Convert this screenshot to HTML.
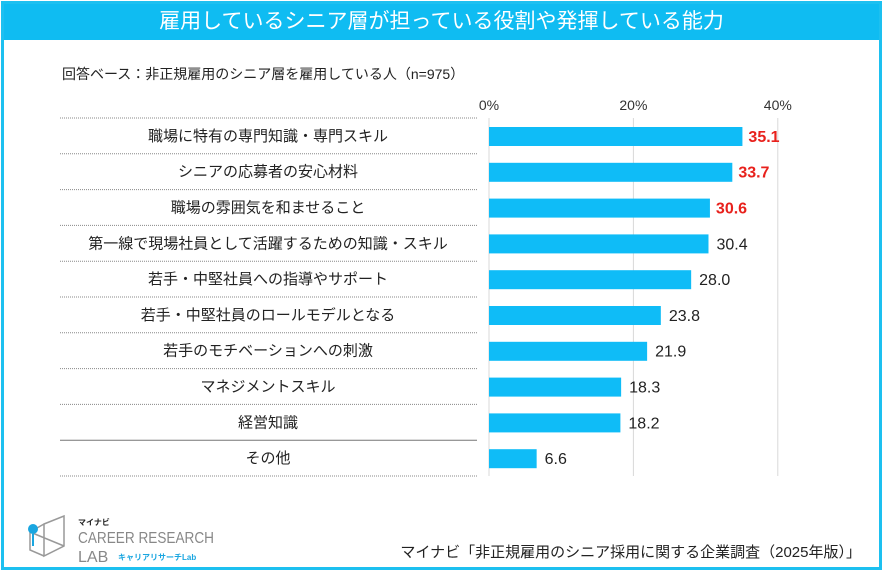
<!DOCTYPE html>
<html><head><meta charset="utf-8">
<style>
html,body{margin:0;padding:0;background:#fff;}
body{width:883px;height:573px;position:relative;overflow:hidden;font-family:"Liberation Sans","Noto Sans CJK JP",sans-serif;}
.frame{position:absolute;left:1px;top:1px;width:875px;height:563px;border:3px solid #1dc0f0;}
.title{position:absolute;left:4px;top:4px;width:875px;height:36px;background:#0fbcf2;color:#fff;font-size:21px;line-height:36px;text-align:center;}
.sub{position:absolute;left:62px;top:64px;font-size:14px;color:#222;}
.src{position:absolute;right:22px;top:541px;font-size:15px;color:#222;}
</style></head><body>
<div class="frame"></div>
<div class="title">雇用しているシニア層が担っている役割や発揮している能力</div>
<div class="sub">回答ベース：非正規雇用のシニア層を雇用している人（n=975）</div>
<svg id="chart" width="883" height="573" style="position:absolute;left:0;top:0"></svg>
<svg width="200" height="60" style="position:absolute;left:22px;top:512px">
  <path d="M22 12 L42 4 L42 34 L22 44 Z M22 12 L8 20 L8 38 L22 44 M8 20 L42 34" fill="none" stroke="#999" stroke-width="1.5"/>
  <circle cx="11" cy="17" r="5" fill="#1aa6e0"/><line x1="11" y1="22" x2="11" y2="34" stroke="#1aa6e0" stroke-width="2"/>
  <text x="56" y="13" font-size="8" font-weight="bold" fill="#222" font-family="Liberation Sans, Noto Sans CJK JP, sans-serif">マイナビ</text>
  <text x="56" y="31" font-size="16" fill="#888" textLength="136" lengthAdjust="spacingAndGlyphs" font-family="Liberation Sans, sans-serif">CAREER RESEARCH</text>
  <text x="56" y="50" font-size="16" fill="#888" font-family="Liberation Sans, sans-serif">LAB</text>
  <text x="96" y="48" font-size="8" font-weight="bold" fill="#1aa6e0" font-family="Liberation Sans, Noto Sans CJK JP, sans-serif">キャリアリサーチLab</text>
</svg>
<div class="src">マイナビ「非正規雇用のシニア採用に関する企業調査（2025年版）」</div>
<script>
const categories=["職場に特有の専門知識・専門スキル","シニアの応募者の安心材料","職場の雰囲気を和ませること","第一線で現場社員として活躍するための知識・スキル","若手・中堅社員への指導やサポート","若手・中堅社員のロールモデルとなる","若手のモチベーションへの刺激","マネジメントスキル","経営知識","その他"];
const values=[35.1,33.7,30.6,30.4,28.0,23.8,21.9,18.3,18.2,6.6];
const highlighted=[true,true,true,false,false,false,false,false,false,false];
const ticks=[0,20,40];
const NS="http://www.w3.org/2000/svg";
const svg=document.getElementById('chart');
const X0=489,PX=7.22,TOP=118,PITCH=35.8;
const xs=v=>X0+v*PX;
const rowY=i=>TOP+i*PITCH;
function mk(t,a){const e=document.createElementNS(NS,t);for(const k in a)e.setAttribute(k,a[k]);svg.appendChild(e);return e;}
ticks.forEach(t=>{
  const g=mk('line',{x1:xs(t),x2:xs(t),y1:TOP,y2:rowY(categories.length),stroke:'#d8d8d8','stroke-width':1});
  
  
  const l=mk('text',{x:xs(t),y:110,'font-size':14,fill:'#333','text-anchor':'middle'});
  l.textContent=t+'%';
  
  
});
for(let i=0;i<=categories.length;i++){
  const solid=(i===categories.length-1);
  const s=mk('line',{x1:60,x2:477,y1:rowY(i),y2:rowY(i),stroke:solid?'#777':'#888','stroke-width':1,'stroke-dasharray':solid?'':'1,1'});
  
  
}
categories.forEach((c,i)=>{
  const y=rowY(i);
  const lab=mk('text',{x:268,y:y+PITCH/2+5,'font-size':15,fill:'#222','text-anchor':'middle'});
  lab.textContent=c;
  
  
  const b=mk('rect',{x:X0,y:y+9,width:xs(values[i])-X0,height:19,fill:'#0fbcf7'});
  
  
  const v=mk('text',{x:xs(values[i])+(highlighted[i]?6:8),y:y+PITCH/2+6,'font-size':16,fill:highlighted[i]?'#e8211c':'#222','font-weight':highlighted[i]?'bold':'normal'});
  v.textContent=values[i].toFixed(1);
  
  
});
</script>
</body></html>
